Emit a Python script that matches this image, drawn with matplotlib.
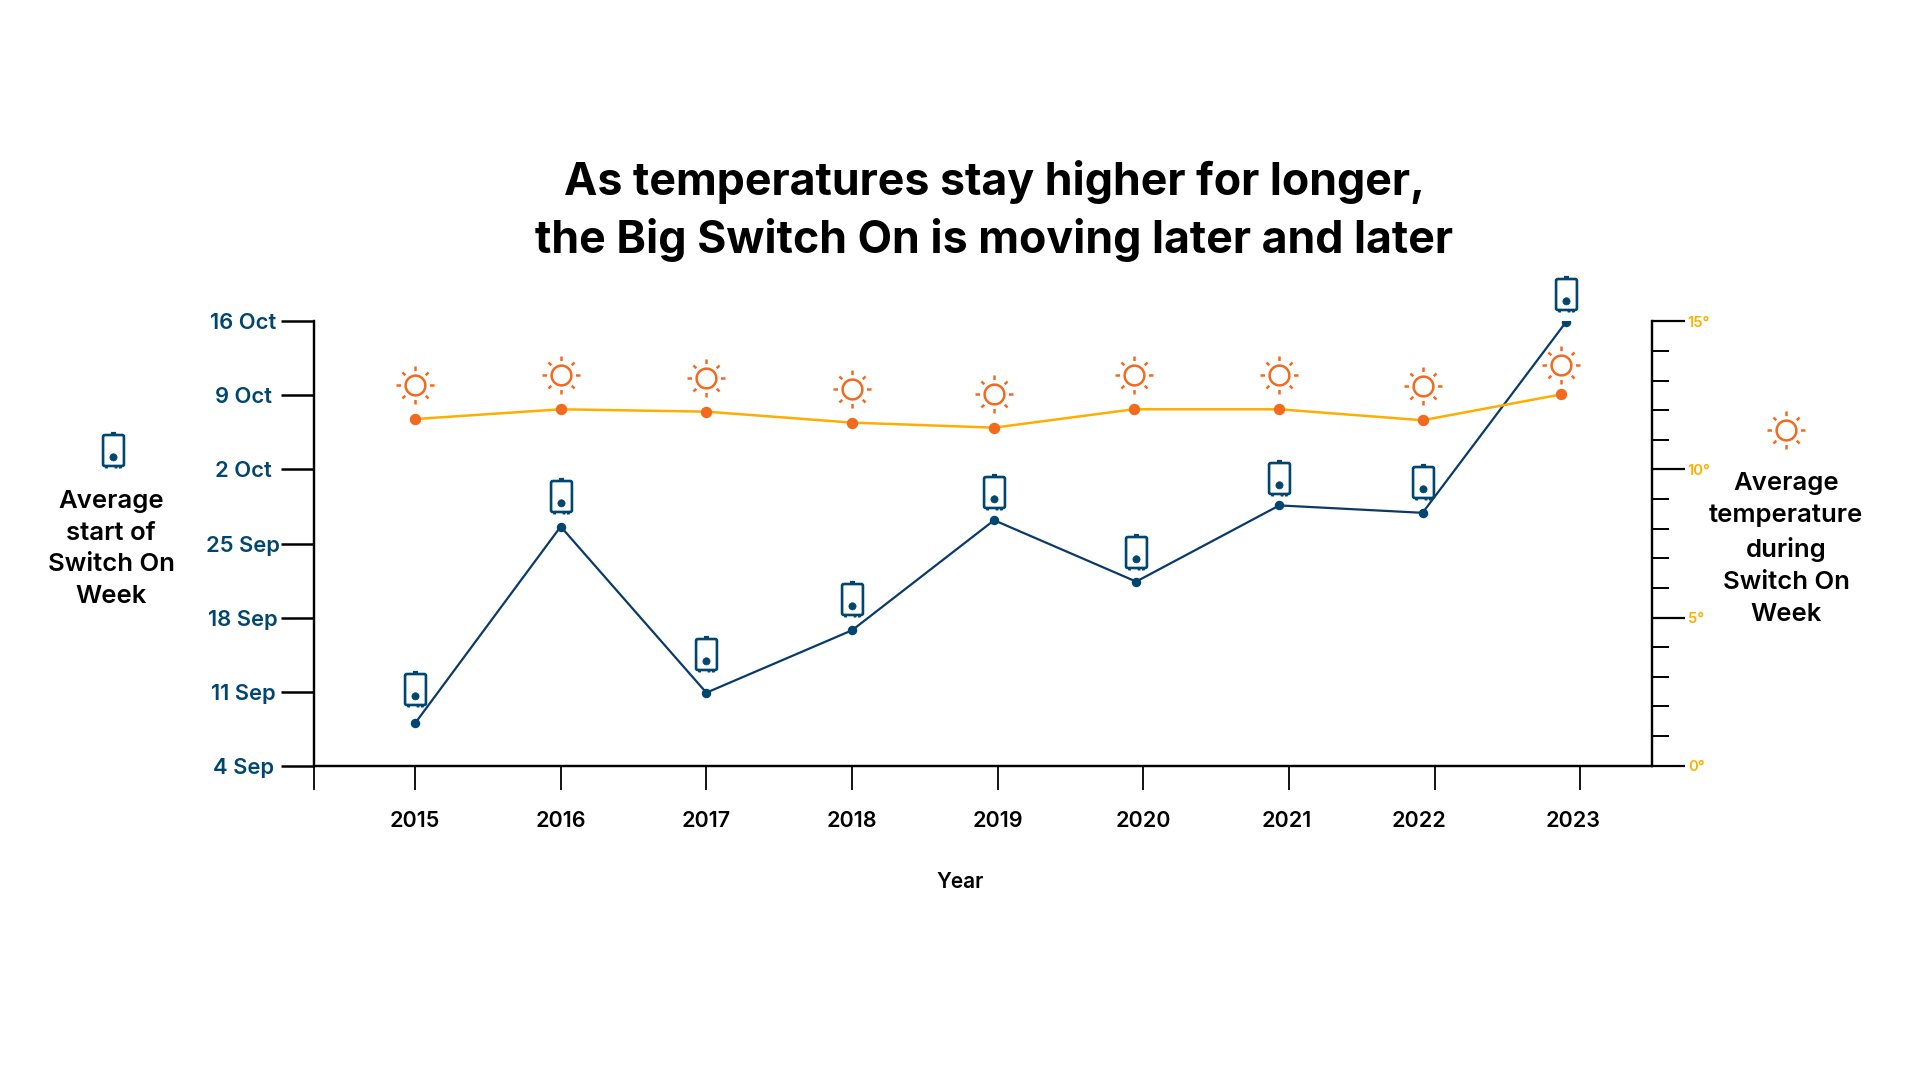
import matplotlib
matplotlib.use("Agg")
import matplotlib.pyplot as plt
from matplotlib.path import Path
from matplotlib.transforms import Affine2D
import numpy as np

plt.rcParams['font.family'] = ['Inter', 'DejaVu Sans']

years = [2015, 2016, 2017, 2018, 2019, 2020, 2021, 2022, 2023]
date_labels = ['4 Sep', '11 Sep', '18 Sep', '25 Sep', '2 Oct', '9 Oct', '16 Oct']
temp_labels = ['0°', '5°', '10°', '15°']

# x position (points drift slightly from the ticks)
start_x = [2015.0, 2016.0, 2017.0, 2018.0, 2018.975, 2019.95, 2020.933, 2021.916, 2022.899]
temp_x = [2015.0, 2016.0, 2017.0, 2018.0, 2018.975, 2019.933, 2020.933, 2021.916, 2022.866]
# days after 4 Sep
start_days = [4.0, 22.6, 6.9, 12.8, 23.2, 17.4, 24.6, 23.9, 41.9]
# degrees
temp_values = [11.7, 12.03, 11.95, 11.58, 11.41, 12.03, 12.03, 11.66, 12.53]

NAVY = '#00466F'
LINE_NAVY = '#0A3A6C'
AMBER = '#FFAE00'
ORANGE = '#F26A1E'
TICKC = '#000000'

W, H = 1920, 1080
fig = plt.figure(figsize=(W/100, H/100), dpi=100, facecolor='white')
L, R, T, B = 314, 1651.5, 321.3, 765.7
ax = fig.add_axes([L/W, 1-B/H, (R-L)/W, (B-T)/H])
xmin = 2015 - (339-256.5)/119
xmax = 2015 + (1349-339)/119
ax.set_xlim(xmin, xmax)
ax.set_ylim(0, 42)
ax2 = ax.twinx()
ax2.set_ylim(0, 15)
for a in (ax, ax2):
    a.patch.set_visible(False)
    a.spines['top'].set_visible(False)
    for s in a.spines.values():
        s.set_linewidth(1.6)
        s.set_color(TICKC)

ax.set_xticks(years)
ax.set_xticklabels([str(y) for y in years], fontsize=15.5, fontweight=600, color='black')
ax.tick_params(axis='x', length=17.5, width=1.3, pad=14.9, color=TICKC)
for lab, dx in zip(ax.get_xticklabels(), [0, 0, 0, 0, 0, 0, -2.5, -16, -7]):
    lab.set_transform(lab.get_transform() + Affine2D().translate(dx, 0))
ax.set_yticks(range(0, 43, 7))
ax.set_yticklabels(date_labels, fontsize=15.8, fontweight=600, color=NAVY, ha='center')
ax.tick_params(axis='y', length=24, width=1.8, pad=27, color=TICKC)
ax2.set_yticks(range(0, 16, 5))
ax2.set_yticklabels(temp_labels, fontsize=10.7, fontweight=600, color=AMBER)
ax2.set_yticks(range(0, 16), minor=True)
ax2.tick_params(axis='y', which='major', length=23.5, width=1.6, pad=2.6, color=TICKC)
ax2.tick_params(axis='y', which='minor', length=12.5, width=1.4, color=TICKC)
# spine-end tick on the x axis
ax.annotate('', xy=(0, 0), xycoords='axes fraction', xytext=(0, -17), textcoords='offset points',
            arrowprops=dict(arrowstyle='-', lw=1.3, color=TICKC, shrinkA=0, shrinkB=0))

ax.plot(start_x, start_days, color=LINE_NAVY, lw=1.6, marker='o', ms=5.8, mfc=NAVY, mec=NAVY, zorder=3)
ax2.plot(temp_x, temp_values, color=AMBER, lw=1.8, marker='o', ms=7.2, mfc=ORANGE, mec=ORANGE, zorder=3)


def sun_path():
    t = np.linspace(0, 2*np.pi, 49)
    verts = [(np.cos(a)*0.52, np.sin(a)*0.52) for a in t]
    codes = [Path.MOVETO] + [Path.LINETO]*48
    for a in np.arange(8)*np.pi/4:
        r0, r1 = (0.76, 1.0) if round(a/(np.pi/2), 3) % 1 == 0 else (0.76, 0.97)
        verts += [(np.cos(a)*r0, np.sin(a)*r0), (np.cos(a)*r1, np.sin(a)*r1)]
        codes += [Path.MOVETO, Path.LINETO]
    return Path(verts, codes)


def heater_path():
    w, h, r = 0.58, 0.86, 0.09
    k = [(-w+r, h), (w-r, h), (w, h), (w, h-r), (w, -h+r), (w, -h), (w-r, -h),
         (-w+r, -h), (-w, -h), (-w, -h+r), (-w, h-r), (-w, h), (-w+r, h)]
    c = [Path.MOVETO, Path.LINETO, Path.CURVE3, Path.CURVE3, Path.LINETO, Path.CURVE3, Path.CURVE3,
         Path.LINETO, Path.CURVE3, Path.CURVE3, Path.LINETO, Path.CURVE3, Path.CURVE3]
    # top nub and feet
    k += [(-0.14, h+0.1), (0.14, h+0.1)]
    c += [Path.MOVETO, Path.LINETO]
    for x in (-0.38, 0.14, 0.38):
        k += [(x, -h), (x, -h-0.14)]
        c += [Path.MOVETO, Path.LINETO]
    return Path(k, c)


def dot_path():
    # trailing move keeps the marker's scale the same as the heater outline
    circ = Path.circle((0, -0.38), 0.2)
    return Path(np.vstack([circ.vertices, [[0, 1.0]]]), list(circ.codes) + [Path.MOVETO])


SUN = sun_path()
HEAT = heater_path()
DOT = dot_path()
px = 72/100  # points per pixel
HS = 36
SS = 38


def icon(axes, path, x, y, lift_px, size_px, lw, color, filled=False):
    tr = axes.transData + Affine2D().translate(0, lift_px)
    axes.plot([x], [y], transform=tr, marker=path, ms=size_px*px, ls='none', mew=lw,
              mec=color, mfc=color if filled else 'none', zorder=4, clip_on=False)


# Icon lifts above each point (px)
heat_lift = [34, 31, 39, 31, 28, 30, 27, 31, 28]
sun_lift = [34, 34, 34, 34, 34, 34, 34, 34, 29]
for x, y, lift in zip(start_x, start_days, heat_lift):
    icon(ax, HEAT, x, y, lift, HS, 1.9, NAVY)
    icon(ax, DOT, x, y, lift, HS, 0.5, NAVY, True)
for x, y, lift in zip(temp_x, temp_values, sun_lift):
    icon(ax2, SUN, x, y, lift, SS, 1.8, ORANGE)

# Legend icons at figure positions
fig_tr = fig.transFigure


def fig_icon(path, x, y, size_px, lw, color, filled=False):
    fig.add_artist(plt.Line2D([x/W], [1-y/H], transform=fig_tr, marker=path, ms=size_px*px, ls='none',
                              mew=lw, mec=color, mfc=color if filled else 'none'))


fig_icon(HEAT, 113, 450, HS, 1.9, NAVY)
fig_icon(DOT, 113, 450, HS, 0.5, NAVY, True)
fig_icon(SUN, 1795-9.5, 430, SS, 1.8, ORANGE)

fig.text(111/W, 1-549/H, 'Average\nstart of\nSwitch On\nWeek', ha='center', va='center', fontsize=18.5,
         fontweight=600, linespacing=1.49, color='black')
fig.text(1786/W, 1-549/H, 'Average\ntemperature\nduring\nSwitch On\nWeek', ha='center', va='center', fontsize=18.5,
         fontweight=600, linespacing=1.49, color='black')
fig.text(960/W, 1-882.5/H, 'Year', ha='center', va='center', fontsize=15, fontweight=600, color='black')
fig.text(994/W, 1-182/H, 'As temperatures stay higher for longer,', ha='center', va='center', fontsize=32.2,
         fontweight=700, color='black')
fig.text(994/W, 1-240/H, 'the Big Switch On is moving later and later', ha='center', va='center', fontsize=32.2,
         fontweight=700, color='black')

fig.savefig('out.png', dpi=100, facecolor='white')
